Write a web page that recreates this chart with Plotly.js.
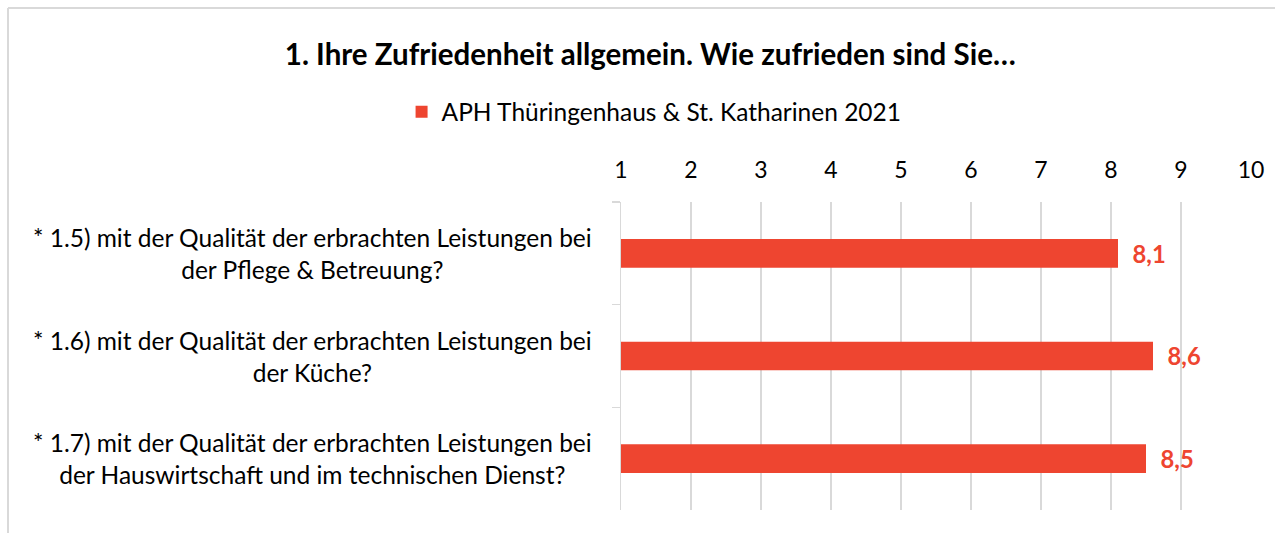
<!DOCTYPE html>
<html>
<head>
<meta charset="utf-8">
<script src="https://cdn.plot.ly/plotly-3.0.1.min.js"></script>
<style>
  html, body { margin: 0; padding: 0; background: #fff; }
  #chart { width: 1275px; height: 533px; }
</style>
</head>
<body>
<div id="chart"></div>
<script>
const chartTitle = '1. Ihre Zufriedenheit allgemein. Wie zufrieden sind Sie…';
const seriesName = 'APH Thüringenhaus & St. Katharinen 2021';
const categories = ['q15', 'q16', 'q17'];
const categoryLabels = [
  '* 1.5) mit der Qualität der erbrachten Leistungen bei<br>der Pflege & Betreuung?',
  '* 1.6) mit der Qualität der erbrachten Leistungen bei<br>der Küche?',
  '* 1.7) mit der Qualität der erbrachten Leistungen bei<br>der Hauswirtschaft und im technischen Dienst?'
];
const values = [8.1, 8.6, 8.5];
const xTicks = [1, 2, 3, 4, 5, 6, 7, 8, 9, 10];

const FONT = 'Lato, "Open Sans", sans-serif';
const RED = '#EE4530';

const trace = {
  type: 'bar',
  orientation: 'h',
  name: seriesName,
  x: values,
  y: categories,
  marker: { color: RED },
  texttemplate: '\u00a0\u00a0%{x:.1f}',
  textposition: 'outside',
  textfont: { family: FONT, size: 24, color: RED, weight: 'bold' },
  cliponaxis: false,
  hoverinfo: 'skip'
};

const annotations = categories.map((c, i) => ({
  xref: 'paper', yref: 'y', x: -0.49, y: c,
  text: categoryLabels[i], showarrow: false,
  xanchor: 'center', yanchor: 'middle', align: 'center',
  font: { family: FONT, size: 24.5, color: '#000' }
}));

const layout = {
  width: 1275, height: 533,
  margin: { l: 621, r: 24, t: 202, b: 23, autoexpand: false },
  paper_bgcolor: '#fff', plot_bgcolor: '#fff',
  separators: ', ',
  font: { family: FONT, size: 24, color: '#000' },
  title: {
    text: '<b>' + chartTitle + '</b>',
    font: { family: FONT, size: 29.5, color: '#000' },
    x: 0.51, xanchor: 'center', y: 0.897, yanchor: 'middle', xref: 'container', yref: 'container'
  },
  showlegend: true,
  legend: {
    orientation: 'h', x: 0.513, xanchor: 'center', y: 0.79, yanchor: 'middle',
    xref: 'container', yref: 'container',
    font: { family: FONT, size: 24.5, color: '#000' },
    itemwidth: 30
  },
  bargap: 0.72,
  xaxis: {
    side: 'top', range: [1, 10], tickvals: xTicks, ticktext: xTicks.map(String),
    showgrid: true, gridcolor: '#d9d9d9', gridwidth: 1.5,
    zeroline: false, showline: false, ticks: '',
    ticklabelstandoff: 18,
    tickfont: { family: FONT, size: 23, color: '#000' },
    fixedrange: true
  },
  yaxis: {
    type: 'category', categoryorder: 'array', categoryarray: categories,
    autorange: 'reversed',
    showticklabels: false,
    showline: true, linecolor: '#d9d9d9', linewidth: 1.5,
    ticks: 'outside', tickson: 'boundaries', ticklen: 8, tickcolor: '#d9d9d9', tickwidth: 1.5,
    showgrid: false, zeroline: false, fixedrange: true
  },
  annotations: annotations,
  shapes: [
    { type: 'line', xref: 'paper', yref: 'paper', x0: -0.973, x1: -0.973, y0: 1.63, y1: -0.2,
      line: { color: '#d9d9d9', width: 2 } },
    { type: 'line', xref: 'paper', yref: 'paper', x0: -0.973, x1: 1.2, y0: 1.63, y1: 1.63,
      line: { color: '#d9d9d9', width: 2 } }
  ]
};

Plotly.newPlot('chart', [trace], layout, { displayModeBar: false, staticPlot: true });
</script>
</body>
</html>
